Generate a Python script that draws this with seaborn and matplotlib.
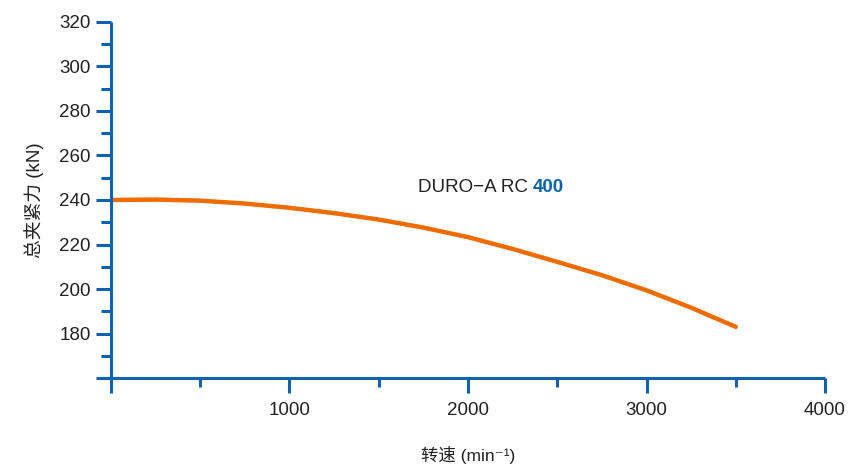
import matplotlib
matplotlib.use("Agg")
import matplotlib.pyplot as plt
import seaborn as sns
import pandas as pd

rpm = [0, 250, 500, 750, 1000, 1250, 1500, 1750, 2000, 2250, 2500, 2750, 3000, 3250, 3500]
force = [240.0, 240.2, 239.7, 238.4, 236.5, 234.1, 231.2, 227.6, 223.3, 218.0, 212.2, 206.2, 199.4, 191.6, 183.0]
x_ticks = [0, 1000, 2000, 3000, 4000]
x_labels = ["", "1000", "2000", "3000", "4000"]
y_ticks = [160, 180, 200, 220, 240, 260, 280, 300, 320]
y_labels = ["", "180", "200", "220", "240", "260", "280", "300", "320"]
series_name = "DURO\u2212A RC "
series_num = "400"

sns.set_theme(style="white")
plt.rcParams['font.family'] = ['Liberation Sans', 'Noto Sans CJK SC', 'DejaVu Sans']

blue = "#0a62b0"
orange = "#f06c00"
textc = "#222222"

fig = plt.figure(figsize=(8.53, 4.68), dpi=100)
ax = fig.add_axes([0.1301, 0.1923, 0.8371, 0.7607])

df = pd.DataFrame({"rpm": rpm, "force": force})
sns.lineplot(data=df, x="rpm", y="force", ax=ax, color=orange, linewidth=3.2,
             solid_capstyle="round", solid_joinstyle="round", estimator=None)

ax.set_xlim(0, 4000)
ax.set_ylim(160, 320)
ax.set_xticks(x_ticks)
ax.set_xticklabels(x_labels)
ax.set_yticks(y_ticks)
ax.set_yticklabels(y_labels)
ax.set_xticks([500, 1500, 2500, 3500], minor=True)
ax.set_yticks([170, 190, 210, 230, 250, 270, 290, 310], minor=True)

for s in ["top", "right"]:
    ax.spines[s].set_visible(False)
for s in ["left", "bottom"]:
    ax.spines[s].set_color(blue)
    ax.spines[s].set_linewidth(2.2)
    ax.spines[s].set_capstyle("butt")

ax.tick_params(axis="x", which="major", direction="out", length=11, width=2.2, color=blue,
               labelsize=13.5, labelcolor=textc, pad=6, bottom=True)
ax.tick_params(axis="x", which="minor", direction="out", length=6.5, width=2.2, color=blue, bottom=True)
ax.tick_params(axis="y", which="major", direction="out", length=10.5, width=2.2, color=blue,
               labelsize=13.5, labelcolor=textc, pad=4, left=True)
ax.tick_params(axis="y", which="minor", direction="out", length=7, width=2.2, color=blue, left=True)

ax.set_xlabel("转速 (min⁻¹)", fontsize=12.5, color=textc, labelpad=20)
ax.set_ylabel("总夹紧力 (kN)", fontsize=13.5, color=textc, labelpad=11)

t1 = ax.text(1720, 245.4, series_name, fontsize=13.5, color=textc, va="center", ha="left")
ax.annotate(series_num, xy=(1, 0), xycoords=t1, xytext=(0, 0), textcoords="offset points",
            fontsize=13.5, color=blue, fontweight="bold", va="bottom", ha="left")

ax.grid(False)
fig.savefig("out.png", dpi=100)
